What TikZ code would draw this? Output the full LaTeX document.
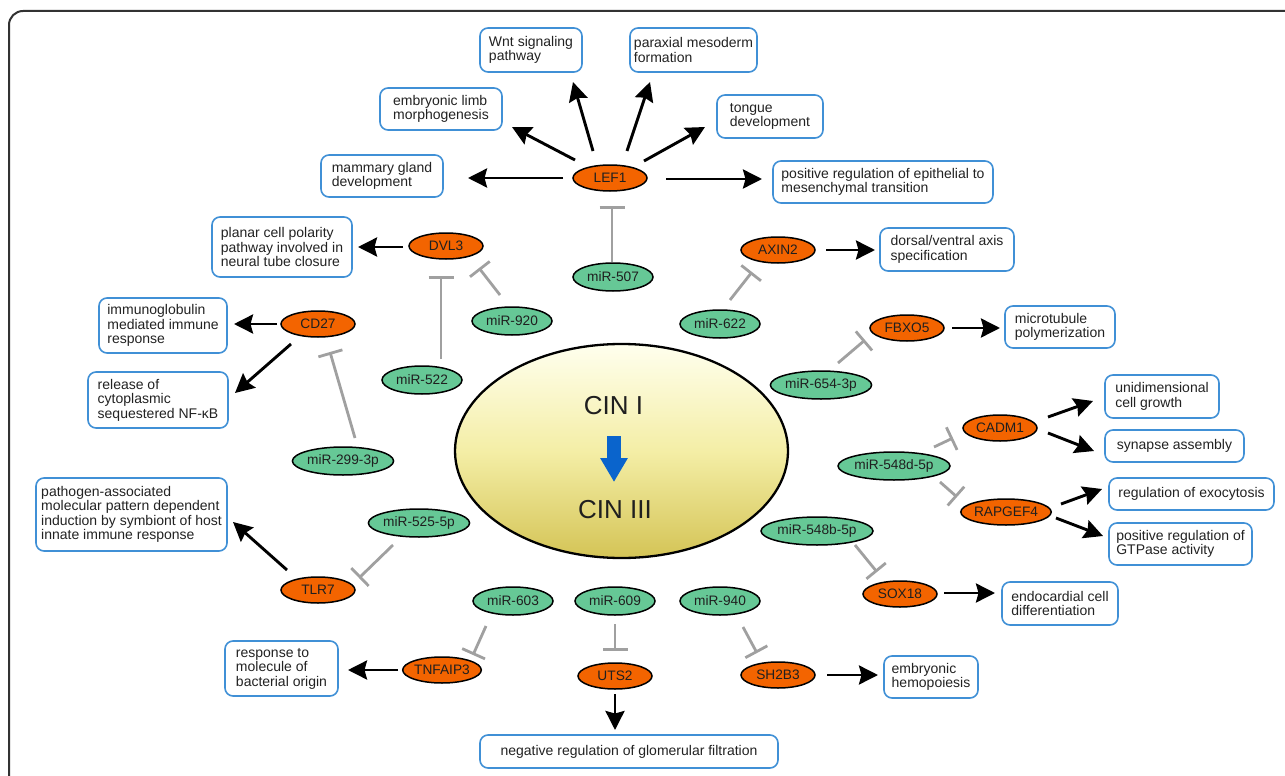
\documentclass[tikz,border=0pt]{standalone}
\usepackage{fontspec}
\setmainfont{Liberation Sans}
\usetikzlibrary{arrows.meta,shapes.geometric}
\definecolor{geneor}{RGB}{243,100,0}
\definecolor{mirgr}{RGB}{102,200,150}
\definecolor{boxblue}{RGB}{64,144,214}
\definecolor{inhgray}{RGB}{160,160,160}
\definecolor{cinblue}{RGB}{10,100,204}
\definecolor{cintop}{RGB}{255,255,238}
\definecolor{cinmid}{RGB}{244,238,166}
\definecolor{cinbot}{RGB}{212,196,86}
\definecolor{framecol}{RGB}{50,50,50}
\definecolor{txt}{RGB}{34,34,34}
\begin{document}
\begin{tikzpicture}[x=1pt,y=-1pt,
  gene/.style={ellipse, draw=black, line width=1.5pt, fill=geneor, minimum width=74pt, minimum height=26pt, inner sep=0pt, font=\fontsize{13.7}{14}\selectfont, text=black!88},
  mir/.style={ellipse, draw=black, line width=1.5pt, fill=mirgr, minimum width=80pt, minimum height=28pt, inner sep=0pt, font=\fontsize{13.7}{14}\selectfont, text=black!88},
  gobox/.style={draw=boxblue, line width=1.6pt, rounded corners=8pt, fill=white, align=left, inner sep=0pt, font=\fontsize{14}{14.5}\selectfont, text=txt},
  act/.style={line width=2.9pt, -{Stealth[length=19pt,width=19pt,inset=2.5pt]}},
  inh/.style={draw=inhgray, line width=2.8pt, -{Bar[width=25pt]}},
  cintext/.style={font=\fontsize{26}{28}\selectfont, text=black!88, inner sep=0pt}
]
\useasboundingbox (0,0) rectangle (1285,776);
\clip (0,0) rectangle (1285,776);
\draw[framecol, line width=2pt, rounded corners=14pt] (9,11) rectangle (1330,830);

% central ellipse
\node[ellipse, draw=black, line width=2.3pt, minimum width=333pt, minimum height=214pt, top color=cintop, bottom color=cinbot, middle color=cinmid] (cin) at (621.5,451) {};
\node[cintext] (c1) at (613.5,406) {CIN I};
\node[cintext] (c3) at (615,509.5) {CIN III};
\draw[cinblue, line width=14pt, -{Triangle[length=24pt,width=26pt]}] ([shift={(0.5,30)}]c1.center) -- ([shift={(-1,-27.5)}]c3.center);

% genes
\node[gene] (LEF1) at (610,178) {LEF1};
\node[gene] (DVL3) at (446,246) {DVL3};
\node[gene] (CD27) at (318,324) {CD27};
\node[gene] (AXIN2) at (778,250) {AXIN2};
\node[gene] (FBXO5) at (907,328) {FBXO5};
\node[gene] (CADM1) at (1000,428) {CADM1};
\node[gene, minimum width=86pt] (RAPGEF4) at (1006,512) {RAPGEF4};
\node[gene] (SOX18) at (900,594) {SOX18};
\node[gene] (TLR7) at (318,590) {TLR7};
\node[gene] (TNFAIP3) at (442,670) {TNFAIP3};
\node[gene] (UTS2) at (615,676) {UTS2};
\node[gene] (SH2B3) at (778,675) {SH2B3};

% miRNAs
\node[mir] (m507) at (613,277) {miR-507};
\node[mir] (m920) at (512,321) {miR-920};
\node[mir] (m522) at (422,380) {miR-522};
\node[mir] (m622) at (720,324) {miR-622};
\node[mir, minimum width=92pt] (m654) at (821,385) {miR-654-3p};
\node[mir, minimum width=92pt] (m299) at (343,461) {miR-299-3p};
\node[mir, minimum width=92pt] (m548d) at (894,466) {miR-548d-5p};
\node[mir, minimum width=92pt] (m548b) at (817,531) {miR-548b-5p};
\node[mir, minimum width=92pt] (m525) at (419,523) {miR-525-5p};
\node[mir] (m603) at (513,601) {miR-603};
\node[mir] (m609) at (615,601) {miR-609};
\node[mir] (m940) at (720,601) {miR-940};

% GO boxes
\node[gobox, minimum width=102pt, minimum height=44pt] (wnt) at (531,50) {Wnt signaling\\pathway};
\node[gobox, minimum width=127pt, minimum height=44pt] (parax) at (693.5,50) {paraxial mesoderm\\formation};
\node[gobox, minimum width=122pt, minimum height=42pt] (limb) at (441,109) {embryonic limb\\morphogenesis};
\node[gobox, minimum width=106pt, minimum height=43pt] (tongue) at (770,116.5) {tongue\\development};
\node[gobox, minimum width=122pt, minimum height=42pt] (mam) at (382,176) {mammary gland\\development};
\node[gobox, minimum width=220pt, minimum height=42pt] (emt) at (883,182) {positive regulation of epithelial to\\mesenchymal transition};
\node[gobox, minimum width=134pt, minimum height=43pt] (dors) at (947,249.5) {dorsal/ventral axis\\specification};
\node[gobox, minimum width=140pt, minimum height=60pt] (planar) at (282,247) {planar cell polarity\\pathway involved in\\neural tube closure};
\node[gobox, minimum width=128pt, minimum height=55pt] (immuno) at (163,325.5) {immunoglobulin\\mediated immune\\response};
\node[gobox, minimum width=140pt, minimum height=56pt] (release) at (158,400) {release of\\cytoplasmic\\sequestered NF-κB};
\node[gobox, minimum width=110pt, minimum height=42pt] (micro) at (1060,327) {microtubule\\polymerization};
\node[gobox, minimum width=114pt, minimum height=43pt] (unid) at (1162,396.5) {unidimensional\\cell growth};
\node[gobox, minimum width=139pt, minimum height=32pt] (syn) at (1174.5,446) {synapse assembly};
\node[gobox, minimum width=165pt, minimum height=32pt] (exo) at (1191.5,494) {regulation of exocytosis};
\node[gobox, minimum width=143pt, minimum height=42pt] (gtp) at (1180.5,544) {positive regulation of\\GTPase activity};
\node[gobox, minimum width=116pt, minimum height=43pt] (endo) at (1060,603.5) {endocardial cell\\differentiation};
\node[gobox, minimum width=191pt, minimum height=73pt] (patho) at (131.5,514.5) {pathogen-associated\\molecular pattern dependent\\induction by symbiont of host\\innate immune response};
\node[gobox, minimum width=113pt, minimum height=55pt] (resp) at (281.5,668.5) {response to\\molecule of\\bacterial origin};
\node[gobox, minimum width=94pt, minimum height=42pt] (hemo) at (931,677) {embryonic\\hemopoiesis};
\node[gobox, minimum width=298pt, minimum height=33pt, align=center] (neg) at (629,751.5) {negative regulation of glomerular filtration};

% activation arrows
\draw[act] ([shift={(-47,0)}]LEF1.center) -- ([shift={(86,2)}]mam.center);
\draw[act] ([shift={(-35,-18)}]LEF1.center) -- ([shift={(71,18)}]limb.center);
\draw[act] ([shift={(-17,-27)}]LEF1.center) -- ([shift={(42,32)}]wnt.center);
\draw[act] ([shift={(17,-27)}]LEF1.center) -- ([shift={(-43.5,32)}]parax.center);
\draw[act] ([shift={(34,-17)}]LEF1.center) -- ([shift={(-65,10.5)}]tongue.center);
\draw[act] ([shift={(56,1)}]LEF1.center) -- ([shift={(-121,-3)}]emt.center);
\draw[act] ([shift={(-43,1)}]DVL3.center) -- ([shift={(76,0)}]planar.center);
\draw[act] ([shift={(-41,0)}]CD27.center) -- ([shift={(71,-1.5)}]immuno.center);
\draw[act] ([shift={(-27,20)}]CD27.center) -- ([shift={(77,-7)}]release.center);
\draw[act] ([shift={(48,0)}]AXIN2.center) -- ([shift={(-72,0.5)}]dors.center);
\draw[act] ([shift={(45,0)}]FBXO5.center) -- ([shift={(-60,1)}]micro.center);
\draw[act] ([shift={(48,-11)}]CADM1.center) -- ([shift={(-69,4.5)}]unid.center);
\draw[act] ([shift={(48,5)}]CADM1.center) -- ([shift={(-80.5,5)}]syn.center);
\draw[act] ([shift={(55,-8)}]RAPGEF4.center) -- ([shift={(-89.5,-5)}]exo.center);
\draw[act] ([shift={(50,6)}]RAPGEF4.center) -- ([shift={(-77.5,-8)}]gtp.center);
\draw[act] ([shift={(44,-1)}]SOX18.center) -- ([shift={(-65,-10.5)}]endo.center);
\draw[act] ([shift={(-31,-20)}]TLR7.center) -- ([shift={(101.5,7.5)}]patho.center);
\draw[act] ([shift={(-44,0)}]TNFAIP3.center) -- ([shift={(66.5,1.5)}]resp.center);
\draw[act] ([shift={(0,18)}]UTS2.center) -- ([shift={(-14,-21.5)}]neg.center);
\draw[act] ([shift={(49,0)}]SH2B3.center) -- ([shift={(-53,-2)}]hemo.center);

% inhibition
\draw[inh] ([shift={(-1,-15)}]m507.center) -- ([shift={(2,28)}]LEF1.center);
\draw[inh] ([shift={(-12,-26)}]m920.center) -- ([shift={(33,22)}]DVL3.center);
\draw[inh] ([shift={(19,-21)}]m522.center) -- ([shift={(-5,30)}]DVL3.center);
\draw[inh] ([shift={(12,-23)}]m299.center) -- ([shift={(12,28)}]CD27.center);
\draw[inh] ([shift={(10,-24)}]m622.center) -- ([shift={(-26,22)}]AXIN2.center);
\draw[inh] ([shift={(17,-22)}]m654.center) -- ([shift={(-42,12)}]FBXO5.center);
\draw[inh] ([shift={(40,-19)}]m548d.center) -- ([shift={(-47,10)}]CADM1.center);
\draw[inh] ([shift={(46,16)}]m548d.center) -- ([shift={(-49,-15)}]RAPGEF4.center);
\draw[inh] ([shift={(38,14)}]m548b.center) -- ([shift={(-23,-22)}]SOX18.center);
\draw[inh] ([shift={(-26,22)}]m525.center) -- ([shift={(41,-12)}]TLR7.center);
\draw[inh] ([shift={(-27,25)}]m603.center) -- ([shift={(31,-15)}]TNFAIP3.center);
\draw[inh] ([shift={(0,23)}]m609.center) -- ([shift={(0,-25)}]UTS2.center);
\draw[inh] ([shift={(23,26)}]m940.center) -- ([shift={(-21,-22)}]SH2B3.center);
\end{tikzpicture}
\end{document}
